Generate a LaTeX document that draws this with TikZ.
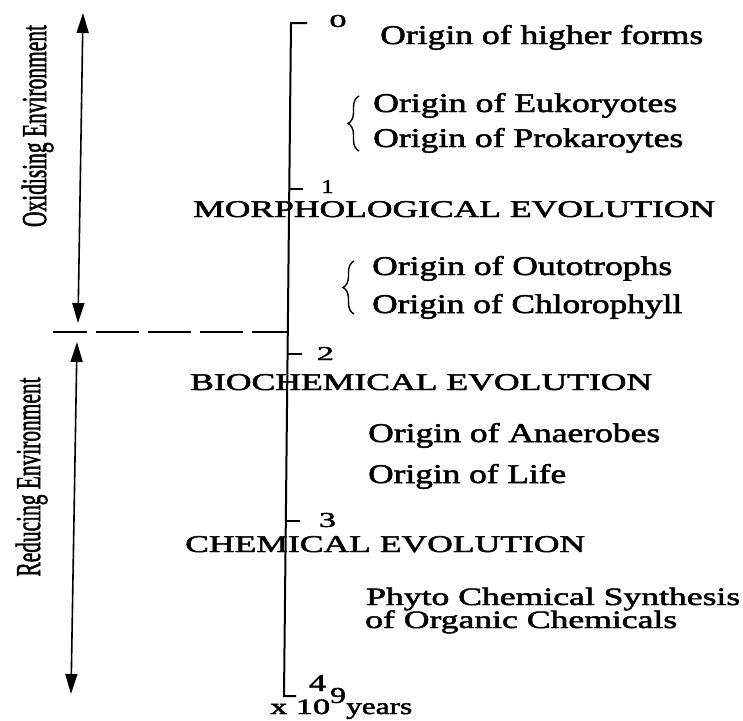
\documentclass[tikz,border=0pt]{standalone}
\usepackage{fontspec}
\setmainfont{Liberation Serif}[FakeBold=1.8]
\usepackage{graphicx}
\usetikzlibrary{arrows.meta,decorations.pathreplacing}
\newcommand{\fw}[2]{\resizebox{#1}{\height}{#2}}
\newcommand{\fs}[1]{\fontsize{#1}{#1}\selectfont}
\newcommand{\dg}[3]{\resizebox{#1}{#2}{\fs{20}#3}}
\begin{document}
\begin{tikzpicture}[x=1pt,y=-1pt,
  lbl/.style={inner sep=0pt, anchor=base west},
  num/.style={inner sep=0pt, anchor=center},
  envarrow/.style={{Triangle[length=20pt,width=12pt]}-{Triangle[length=20pt,width=12pt]}, line width=1.6pt},
  axisline/.style={line width=2pt},
  tick/.style={line width=1.6pt},
  brc/.style={decorate, decoration={brace, amplitude=11pt}, line width=1.4pt},
  envlbl/.style={rotate=90, anchor=base, inner sep=0pt}]
\useasboundingbox (0,0) rectangle (743,720);
% axis
\coordinate (ax0) at (291,23);
\coordinate (ax1) at (289.3,189);
\coordinate (ax2) at (287.7,354);
\coordinate (ax3) at (286,521);
\coordinate (ax4) at (284,696);
\coordinate (tk0) at (307,23);
\coordinate (tk1) at (303,189);
\coordinate (tk2) at (302,354);
\coordinate (tk3) at (300,521);
\coordinate (tk4) at (296,696);
\draw[axisline] (tk0) -- (ax0) -- (ax4) -- (tk4);
\draw[tick] (ax1) -- (tk1);
\draw[tick] (ax2) -- (tk2);
\draw[tick] (ax3) -- (tk3);
\node[num] (n0) at (338,21) {\dg{17pt}{12pt}{0}};
\node[num] (n1) at (327.5,186.5) {\dg{12pt}{13pt}{1}};
\node[num] (n2) at (325.5,353.5) {\dg{17pt}{13pt}{2}};
\node[num] (n3) at (327.5,520) {\dg{17pt}{14pt}{3}};
\node[num] (n4) at (317.5,683) {\dg{17pt}{16pt}{4}};
\node[lbl] (yx) at (270,714) {\fw{60pt}{\fs{22}x 10}};
\node[num] (y9) at (338,695.5) {\dg{16pt}{15pt}{9}};
\node[lbl] (yyears) at (346,714) {\fw{66pt}{\fs{23}years}};
% dashed boundary
\coordinate (dashstart) at (53,332);
\coordinate (dashend) at (287.6,332);
\draw[line width=1.5pt, dash pattern=on 43pt off 9pt, dash phase=9pt] (dashstart) -- (dashend);
% environment arrows
\coordinate (oxtop) at (83,13);
\coordinate (oxbot) at (78,323);
\coordinate (redtop) at (77,342);
\coordinate (redbot) at (71,694);
\draw[envarrow] (oxtop) -- (oxbot);
\draw[envarrow] (redtop) -- (redbot);
\node[envlbl] (oxlbl) at (46,126) {\fw{202pt}{\fs{35}Oxidising Environment}};
\node[envlbl] (redlbl) at (40,477) {\fw{199pt}{\fs{35}Reducing Environment}};
% texts
\node[lbl] (higher) at (380,44) {\fw{323pt}{\fs{27}Origin of higher forms}};
\node[lbl] (euk) at (373,112) {\fw{304pt}{\fs{27}Origin of Eukoryotes}};
\node[lbl] (pro) at (373,147) {\fw{310pt}{\fs{27}Origin of Prokaroytes}};
\node[lbl] (morph) at (193,217) {\fw{522pt}{\fs{24}MORPHOLOGICAL EVOLUTION}};
\node[lbl] (outo) at (372,275) {\fw{300pt}{\fs{27}Origin of Outotrophs}};
\node[lbl] (chl) at (372,313) {\fw{310pt}{\fs{27}Origin of Chlorophyll}};
\node[lbl] (bio) at (190,390) {\fw{462pt}{\fs{24}BIOCHEMICAL EVOLUTION}};
\node[lbl] (ana) at (368,442) {\fw{292pt}{\fs{27}Origin of Anaerobes}};
\node[lbl] (life) at (368,483) {\fw{198pt}{\fs{27}Origin of Life}};
\node[lbl] (chem) at (185,552) {\fw{400pt}{\fs{24}CHEMICAL EVOLUTION}};
\node[lbl] (phyto) at (366,605) {\fw{374pt}{\fs{25}Phyto Chemical Synthesis}};
\node[lbl] (org) at (365,628) {\fw{312pt}{\fs{25}of Organic Chemicals}};
% braces
\coordinate (b1bot) at (359,151);
\coordinate (b1top) at (359,96);
\coordinate (b2bot) at (354,314);
\coordinate (b2top) at (354,261);
\draw[brc] (b1bot) -- (b1top);
\draw[brc] (b2bot) -- (b2top);
\end{tikzpicture}
\end{document}
